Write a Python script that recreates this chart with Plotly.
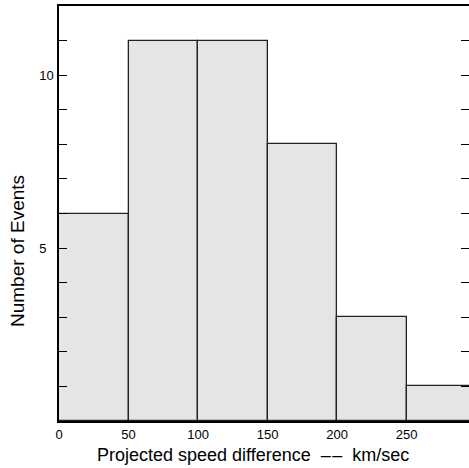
import plotly.graph_objects as go

bin_edges = [0, 50, 100, 150, 200, 250, 300]
counts = [6, 11, 11, 8, 3, 1]
x_tick_vals = [0, 50, 100, 150, 200, 250]
y_tick_vals = list(range(0, 13))
y_tick_text = ["5\u2007" if v == 5 else ("10" if v == 10 else "") for v in y_tick_vals]

centers = [(a + b) / 2 for a, b in zip(bin_edges[:-1], bin_edges[1:])]
widths = [b - a for a, b in zip(bin_edges[:-1], bin_edges[1:])]

FONT = "Liberation Sans, Arial, Helvetica, sans-serif"
W, H = 469, 468
ML, MR, MT, MB = 59, 0, 6, 47
PW = W - ML - MR
PH = H - MT - MB

fig = go.Figure()
fig.add_trace(go.Bar(
    x=centers, y=counts, width=widths,
    marker=dict(color="#e5e5e5", line=dict(color="#222222", width=1.3)),
    showlegend=False, hoverinfo="skip",
))
# invisible trace to anchor the right-hand tick axis
fig.add_trace(go.Scatter(x=[centers[0]], y=[0], yaxis="y2", mode="markers",
                         marker=dict(opacity=0), showlegend=False, hoverinfo="skip"))

fig.update_layout(
    width=W, height=H,
    margin=dict(l=ML, r=MR, t=MT, b=MB),
    paper_bgcolor="white", plot_bgcolor="white",
    font=dict(family=FONT, color="black", size=13),
    bargap=0,
    yaxis2=dict(
        overlaying="y", side="right", range=[0, 12], tickvals=y_tick_vals,
        showticklabels=False, ticks="inside", ticklen=8, tickwidth=1.2,
        tickcolor="black", showline=False, showgrid=False, zeroline=False,
    ),
)
fig.update_xaxes(
    range=[0, 294.8], tickvals=x_tick_vals, ticks="",
    showline=True, linecolor="black", linewidth=1.8, mirror=True,
    showgrid=False, zeroline=False,
    tickfont=dict(size=13),
)
fig.layout.yaxis.update(
    range=[0, 12],
    tickvals=y_tick_vals, ticktext=y_tick_text,
    ticks="inside", ticklen=8, tickwidth=1.2, tickcolor="black",
    showline=True, linecolor="black", linewidth=1.5, mirror=False,
    showgrid=False, zeroline=False, ticklabelstandoff=1,
    tickfont=dict(size=13),
)

fig.add_annotation(
    text="Projected speed difference\u00a0\u00a0–\u200a–\u00a0\u00a0km/sec",
    showarrow=False,
    xref="paper", yref="paper", x=(253 - ML) / PW, y=-(455 - MT - PH) / PH,
    xanchor="center", yanchor="middle", font=dict(size=18),
)
fig.add_annotation(
    text="Number of Events", showarrow=False, textangle=-90,
    xref="paper", yref="paper", x=-(ML - 17) / PW, y=1 - (251 - MT) / PH,
    xanchor="center", yanchor="middle", font=dict(size=19),
)

fig.write_html("out.html")
